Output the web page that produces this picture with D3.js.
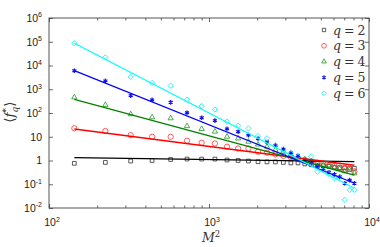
<!DOCTYPE html>
<html>
<head>
<meta charset="utf-8">
<script src="https://cdn.jsdelivr.net/npm/d3@7"></script>
<style>
  body { margin: 0; background: #fff; }
  svg { display: block; font-family: Arial, "Liberation Sans", sans-serif; }
</style>
</head>
<body>
<div id="chart"></div>
<script>
// system sizes M, plotted against M^2
const mValues = [12, 15, 18, 21, 24, 27, 30, 33, 36, 39, 42, 45, 48, 51, 54, 57, 60, 63, 66, 69, 72, 75, 78, 81, 84, 87, 90];
const qLabels = [2, 3, 4, 5, 6];

// <f_q*>
const fq2 = [0.76, 0.83, 0.95, 1.0, 1.1, 1.15, 1.15, 1.15, 1.05, 1.0, 0.95, 0.89, 0.87, 0.87, 0.83, 0.79, 0.79, 0.72, 0.66, 0.6, 0.6, 0.56, 0.52, 0.5, 0.5, 0.48, 0.47];
const fq3 = [22.7, 17.4, 11.7, 10, 10, 6.8, 5.6, 5.2, 3.8, 3.2, 3.2, 2.34, 2.14, 1.82, 1.55, 1.38, 1.2, 1.05, 0.91, 0.79, 0.72, 0.63, 0.58, 0.5, 0.45, 0.44, 0.35];
const fq4 = [457, 219, 89, 66, 60, 28, 21.4, 16.6, 10, 8.5, 6.2, 4.7, 3.8, 2.8, 2.4, 1.8, 1.41, 1.12, 0.93, 0.79, 0.66, 0.63, 0.5, 0.45, 0.35, 0.4, 0.29];
const fq5 = [6000, 2240, 537, 355, 282, 102, 63, 48, 21.4, 16.2, 11.7, 8.3, 6.0, 4.2, 3.0, 2.1, 1.58, 1.05, 0.79, 0.6, 0.47, 0.32, 0.26, 0.21, 0.11, 0.15, 0.11];
const fq6 = [86000, 22000, 3300, 1830, 1410, 363, 197, 140, 43.6, 29.5, 22.4, 10.7, 8.6, 4.47, 2.95, 2.0, 1.45, 1.05, 1.48, 0.34, 0.4, 0.27, 0.18, 0.2, 0.022, 0.058, 0.058];

// power-law fits: value at first and last M^2
const fitFirst = [1.31, 21.2, 378, 6030, 86100];
const fitLast = [0.89, 0.63, 0.245, 0.11, 0.068];

const xTicks = [100, 1000, 10000];
const yTicks = [1e-2, 1e-1, 1, 10, 1e2, 1e3, 1e4, 1e5, 1e6];

const series = [fq2, fq3, fq4, fq5, fq6];
const lineColors = ['#000000', '#ff0000', '#008000', '#0000ff', '#00ffff'];
const markerColors = ['#333333', '#ff3333', '#229922', '#1111ee', '#00eeee'];
const markerShapes = [d3.symbolSquare2, d3.symbolCircle, d3.symbolTriangle2, d3.symbolAsterisk, d3.symbolDiamond2];
const markerSizes = [18, 22, 20, 15, 18];

const W = 380, H = 247;
const margin = { top: 18, right: 11, bottom: 39, left: 49 };
const width = W - margin.left - margin.right;
const height = H - margin.top - margin.bottom;

const svg = d3.select('#chart').append('svg')
  .attr('width', W)
  .attr('height', H);

const chart = svg.append('g')
  .attr('transform', `translate(${margin.left},${margin.top})`);

const x = d3.scaleLog().domain([100, 10000]).range([0, width]);
const y = d3.scaleLog().domain([1e-2, 1e6]).range([height, 0]);

// minor x ticks 2..9 in each decade
const xMinor = [];
for (let d = 100; d < 10000; d *= 10) {
  for (let k = 2; k <= 9; k++) xMinor.push(d * k);
}

const axisColor = '#444';

function styleAxis(g) {
  g.select('.domain').remove();
  g.selectAll('line').attr('stroke', axisColor).attr('stroke-width', 0.8);
  g.selectAll('text').remove();
}

// x ticks (inward, bottom + top)
chart.append('g').attr('transform', `translate(0,${height})`)
  .call(d3.axisBottom(x).tickValues(xMinor).tickSize(-2.5)).call(styleAxis);
chart.append('g')
  .call(d3.axisTop(x).tickValues(xMinor).tickSize(-2.5)).call(styleAxis);
chart.append('g').attr('transform', `translate(0,${height})`)
  .call(d3.axisBottom(x).tickValues(xTicks).tickSize(-4)).call(styleAxis);
chart.append('g')
  .call(d3.axisTop(x).tickValues(xTicks).tickSize(-4)).call(styleAxis);

// y ticks (inward, left + right)
chart.append('g')
  .call(d3.axisLeft(y).tickValues(yTicks).tickSize(-4)).call(styleAxis);
chart.append('g').attr('transform', `translate(${width},0)`)
  .call(d3.axisRight(y).tickValues(yTicks).tickSize(-4)).call(styleAxis);

// frame
chart.append('rect')
  .attr('width', width)
  .attr('height', height)
  .attr('fill', 'none')
  .attr('stroke', axisColor)
  .attr('stroke-width', 0.9);

// power-of-ten labels
function powLabel(sel, v) {
  const e = Math.round(Math.log10(v));
  if (e === 0) { sel.text('1'); return; }
  if (e === 1) { sel.text('10'); return; }
  sel.append('tspan').text('10');
  sel.append('tspan').attr('dy', -4.5).attr('font-size', 7).text(e);
}

chart.append('g').selectAll('text')
  .data(yTicks).enter().append('text')
  .attr('x', -7)
  .attr('y', d => y(d) + 3.8)
  .attr('text-anchor', 'end')
  .attr('font-size', 10.5)
  .attr('fill', '#222')
  .each(function (d) { powLabel(d3.select(this), d); });

chart.append('g').selectAll('text')
  .data(xTicks).enter().append('text')
  .attr('x', d => x(d) + 3)
  .attr('y', height + 18)
  .attr('text-anchor', 'middle')
  .attr('font-size', 10.5)
  .attr('fill', '#222')
  .each(function (d) { powLabel(d3.select(this), d); });

// axis titles
const xTitle = chart.append('text')
  .attr('x', width / 2 + 2)
  .attr('y', height + 34)
  .attr('text-anchor', 'middle')
  .attr('font-family', '"DejaVu Serif", "Liberation Serif", serif')
  .attr('font-size', 12.5)
  .attr('fill', '#333');
xTitle.append('tspan').attr('font-style', 'italic').text('M');
xTitle.append('tspan').attr('dy', -5).attr('font-size', 8.5).text('2');

const yTitle = svg.append('text')
  .attr('transform', `translate(14,${margin.top + 94}) rotate(-90)`)
  .attr('text-anchor', 'middle')
  .attr('font-family', '"DejaVu Serif", "Liberation Serif", serif')
  .attr('font-size', 13.5)
  .attr('fill', '#333');
yTitle.append('tspan').text('\u27E8');
yTitle.append('tspan').attr('font-style', 'italic').text('f');
yTitle.append('tspan').attr('font-size', 9).attr('dy', -5.5).text('*');
yTitle.append('tspan').attr('font-size', 9).attr('font-style', 'italic').attr('dx', -4.5).attr('dy', 9).text('q');
yTitle.append('tspan').attr('dy', -3.5).text('\u27E9');

// data markers and fit lines
const m2 = mValues.map(m => m * m);
const line = d3.line().x(d => x(d[0])).y(d => y(d[1]));

series.forEach((vals, i) => {
  const isLineMarker = markerShapes[i] === d3.symbolAsterisk;
  chart.append('g').selectAll('path')
    .data(vals.map((v, j) => [m2[j], v]))
    .enter().append('path')
    .attr('transform', d => `translate(${x(d[0])},${y(d[1])})`)
    .attr('d', d3.symbol().type(markerShapes[i]).size(markerSizes[i]))
    .attr('fill', 'none')
    .attr('stroke', markerColors[i])
    .attr('stroke-width', isLineMarker ? 1.2 : 0.8);
});

series.forEach((vals, i) => {
  chart.append('path')
    .datum([[m2[0], fitFirst[i]], [m2[m2.length - 1], fitLast[i]]])
    .attr('d', line)
    .attr('fill', 'none')
    .attr('stroke', lineColors[i])
    .attr('stroke-width', 1.3);
});

// legend
const legend = chart.append('g')
  .attr('transform', `translate(${width - 45},12)`);

qLabels.forEach((q, i) => {
  const row = legend.append('g').attr('transform', `translate(0,${i * 15.8})`);
  row.append('path')
    .attr('d', d3.symbol().type(markerShapes[i]).size(markerSizes[i] * 0.8))
    .attr('fill', 'none')
    .attr('stroke', markerColors[i])
    .attr('stroke-width', markerShapes[i] === d3.symbolAsterisk ? 1.1 : 0.8);
  const t = row.append('text')
    .attr('x', 9)
    .attr('y', 4.5)
    .attr('font-family', '"DejaVu Serif", "Liberation Serif", serif')
    .attr('font-size', 12.5)
    .attr('fill', '#333');
  t.append('tspan').attr('font-style', 'italic').text('q');
  t.append('tspan').attr('dx', 3).text('=');
  t.append('tspan').attr('dx', 3).text(q);
});
</script>
</body>
</html>
